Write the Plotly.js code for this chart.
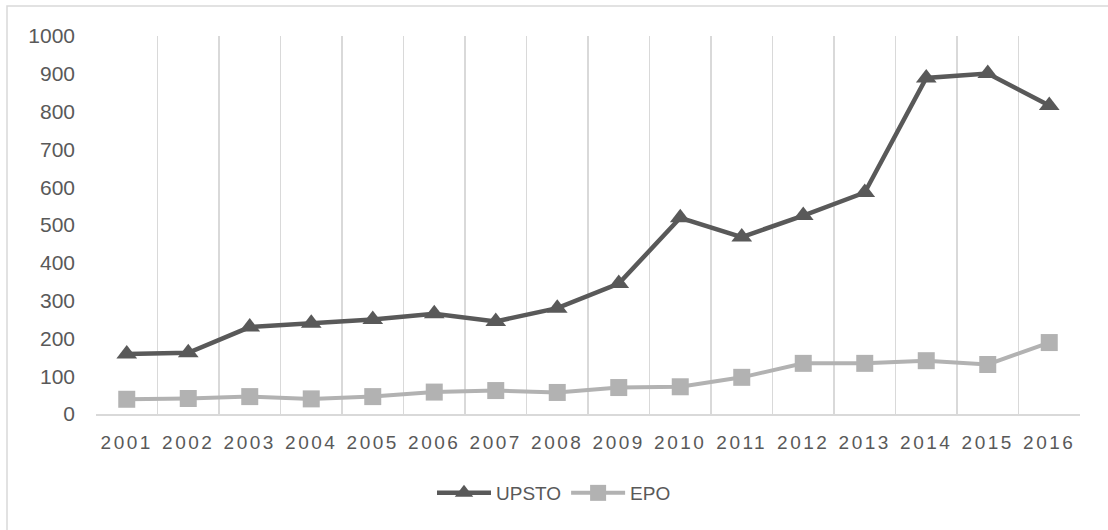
<!DOCTYPE html>
<html>
<head>
<meta charset="utf-8">
<script src="https://cdn.plot.ly/plotly-3.0.1.min.js"></script>
<style>
  html, body { margin: 0; padding: 0; background: #fff; }
  #chart { width: 1108px; height: 530px; }
  #chart .xtick text { letter-spacing: 2.5px; }
</style>
</head>
<body>
<div id="chart"></div>
<script>
const years = ["2001","2002","2003","2004","2005","2006","2007","2008","2009","2010","2011","2012","2013","2014","2015","2016"];
const upsto = [159, 162, 230, 240, 250, 265, 245, 280, 345, 519, 468, 525, 586, 889, 901, 816];
const epo = [39, 41, 46, 40, 46, 58, 62, 57, 70, 72, 97, 134, 134, 141, 131, 189];

const L = 96, R = 1080, T = 36, B = 414, W = 1108, H = 530;
const pw = R - L, ph = B - T;

const traces = [
  {
    x: years, y: upsto, name: "UPSTO", type: "scatter", mode: "lines+markers",
    line: { color: "#595959", width: 4.5 },
    marker: { symbol: "triangle-up", size: 18, color: "#595959" }
  },
  {
    x: years, y: epo, name: "EPO", type: "scatter", mode: "lines+markers",
    line: { color: "#b2b2b2", width: 4 },
    marker: { symbol: "square", size: 17, color: "#b2b2b2" }
  }
];

const layout = {
  width: W, height: H,
  margin: { l: L, r: W - R, t: T, b: H - B, pad: 0 },
  paper_bgcolor: "#ffffff", plot_bgcolor: "#ffffff",
  font: { family: "Liberation Sans, Arial, sans-serif", color: "#595959" },
  showlegend: true,
  legend: {
    orientation: "h", x: (432 - L) / pw, xanchor: "left",
    y: (B - 493) / ph, yanchor: "middle",
    font: { size: 19, color: "#595959" },
    itemwidth: 54,
    traceorder: "normal"
  },
  xaxis: {
    type: "category",
    range: [-0.5, years.length - 0.5],
    tickson: "boundaries",
    automargin: false,
    showgrid: true, gridcolor: "#d9d9d9", gridwidth: 1.5,
    showline: true, linecolor: "#d9d9d9", linewidth: 1.5,
    ticks: "", zeroline: false,
    tickfont: { size: 19, color: "#595959" },
    ticklabelstandoff: 11,
    fixedrange: true
  },
  yaxis: {
    range: [0, 1000], dtick: 100, tick0: 0,
    automargin: false,
    showgrid: false, zeroline: false, showline: false, ticks: "",
    tickfont: { size: 21, color: "#595959" },
    ticklabelstandoff: 20,
    fixedrange: true
  },
  shapes: [
    {
      type: "rect", xref: "paper", yref: "paper",
      x0: (7 - L) / pw, x1: (W + 20 - L) / pw,
      y0: (B - (H + 20)) / ph, y1: (B - 6) / ph,
      line: { color: "#d9d9d9", width: 1.5 },
      fillcolor: "rgba(0,0,0,0)", layer: "below"
    }
  ]
};

Plotly.newPlot("chart", traces, layout, { staticPlot: true, displayModeBar: false });
</script>
</body>
</html>
